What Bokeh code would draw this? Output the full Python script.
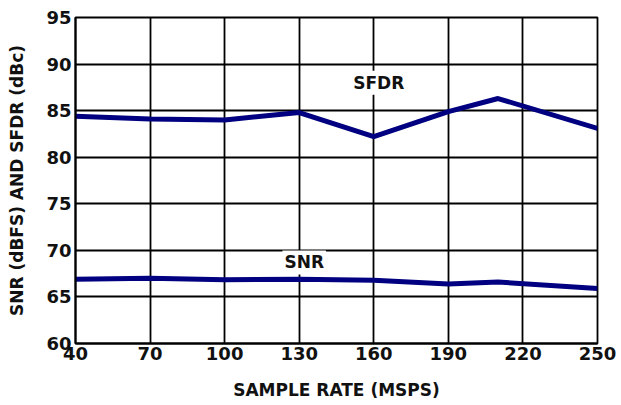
from bokeh.plotting import figure
from bokeh.models import FixedTicker, Range1d, Label
from bokeh.embed import file_html
from bokeh.resources import INLINE

# Data
sample_rate = [40, 70, 100, 130, 160, 190, 210, 250]
sfdr = [84.4, 84.1, 84.0, 84.8, 82.2, 84.9, 86.3, 83.1]
snr = [66.9, 67.0, 66.85, 66.9, 66.8, 66.4, 66.6, 65.9]
x_ticks = [40, 70, 100, 130, 160, 190, 220, 250]
y_ticks = [60, 65, 70, 75, 80, 85, 90, 95]

FONT = "DejaVu Sans"
TXT = "#111111"

p = figure(width=621, height=405, output_backend="svg", toolbar_location=None,
           x_range=Range1d(40, 250), y_range=Range1d(60, 95),
           min_border_left=75, min_border_right=24, min_border_top=17, min_border_bottom=62)

p.outline_line_color = "black"
p.outline_line_width = 1.8
p.background_fill_color = "white"
p.border_fill_color = "white"

for g in (p.xgrid, p.ygrid):
    g.grid_line_color = "black"
    g.grid_line_width = 1.8
    g.grid_line_alpha = 1.0
p.xgrid.ticker = FixedTicker(ticks=x_ticks)
p.ygrid.ticker = FixedTicker(ticks=y_ticks)

p.xaxis.ticker = FixedTicker(ticks=x_ticks)
p.yaxis.ticker = FixedTicker(ticks=y_ticks)

for ax in (p.xaxis, p.yaxis):
    ax.axis_line_color = "black"
    ax.axis_line_width = 2
    ax.major_tick_out = 0
    ax.major_tick_in = 0
    ax.minor_tick_out = 0
    ax.minor_tick_in = 0
    ax.major_label_text_font = FONT
    ax.major_label_text_font_style = "bold"
    ax.major_label_text_font_size = "18px"
    ax.major_label_text_color = TXT
    ax.axis_label_text_font = FONT
    ax.axis_label_text_font_style = "bold"
    ax.axis_label_text_font_size = "17px"
    ax.axis_label_text_color = TXT

p.xaxis.axis_label = "SAMPLE RATE (MSPS)"
p.yaxis.axis_label = "SNR (dBFS) AND SFDR (dBc)"
p.xaxis.major_label_standoff = 3
p.yaxis.major_label_standoff = 4
p.xaxis.axis_label_standoff = 17
p.yaxis.axis_label_standoff = 16

p.line(sample_rate, sfdr, line_color="#000080", line_width=5)
p.line(sample_rate, snr, line_color="#000080", line_width=5)

p.add_layout(Label(x=162, y=88.0, text="SFDR", text_align="center", text_baseline="middle",
                   text_font=FONT, text_font_style="bold", text_font_size="17px",
                   text_color=TXT, background_fill_color="white", padding=2))
p.add_layout(Label(x=132, y=68.7, text="SNR", text_align="center", text_baseline="middle",
                   text_font=FONT, text_font_style="bold", text_font_size="17px",
                   text_color=TXT, background_fill_color="white", padding=2))

open("out.html", "w").write(file_html(p, INLINE))
